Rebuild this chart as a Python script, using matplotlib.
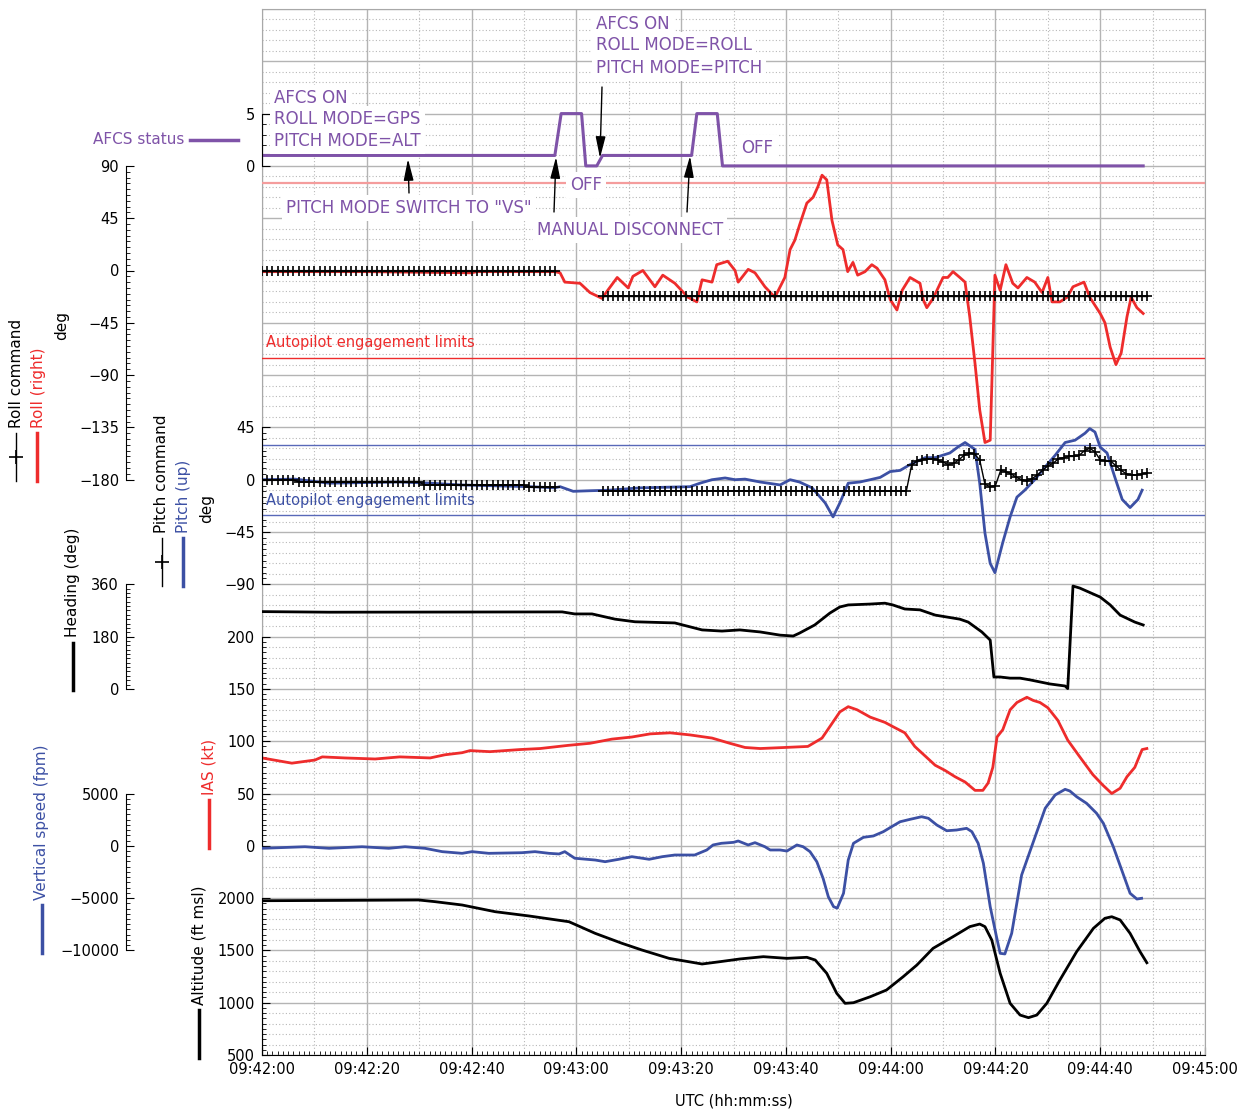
import numpy as np
import matplotlib
matplotlib.use("Agg")
import matplotlib.pyplot as plt
from matplotlib.lines import Line2D
from matplotlib.ticker import FixedLocator, MultipleLocator, FuncFormatter

# ---- data (time in s after 09:42:00 UTC) ----
afcs_t = [0, 55.9, 57.1, 61.0, 61.8, 63.9, 65.0, 82.0, 83.0, 86.9, 87.9, 168.2]
afcs_v = [1, 1, 5, 5, 0, 0, 1, 1, 5, 5, 0, 0]

roll_t = [0, 20, 40, 41, 55.9, 56.9, 57.8, 60.7, 62.6, 64.9, 66.0, 67.8, 69.9, 70.8, 72.7,
          75.0, 76.5, 78.8, 81.3, 83.0, 84.0, 85.9, 86.8, 88.9, 90.3, 90.9, 92.8, 94.1,
          96.0, 97.9, 99.8, 100.8, 101.7, 102.6, 104.0, 105.2, 106.1, 106.9, 107.8, 108.8,
          109.9, 110.9, 111.8, 112.8, 113.7, 115.1, 116.4, 117.4, 118.9, 119.9, 121.2,
          122.2, 123.7, 125.6, 126.2, 126.9, 128.1, 130.0, 130.9, 131.9, 133.2, 134.2,
          135.1, 136.1, 137.0, 138.0, 139.0, 139.5, 139.9, 140.9, 142.0, 143.3, 144.3,
          146.0, 147.5, 148.9, 150.0, 150.8, 152.3, 153.7, 154.8, 156.9, 158.0, 160.0,
          160.9, 161.9, 163.0, 164.0, 165.1, 165.9, 167.0, 168.2]
roll_v = [-1, -1, -2, -1, -1, -2, -10, -11, -19, -24, -17, -6, -15, -5, 0,
          -14, -4, -11, -23, -27, -8, -10, 5, 8, 0, -10, 1, -2,
          -14, -23, -6, 18, 26, 39, 58, 63, 72, 82, 78, 43,
          22, 18, -1, 7, -4, -1, 5, 2, -8, -25, -34,
          -17, -6, -11, -25, -32, -24, -6, -6, -1, -6, -10,
          -40, -80, -120, -148, -146, -68, -4, -17, 5, -11, -15,
          -6, -10, -19, -6, -27, -27, -23, -14, -10, -23, -37,
          -45, -66, -81, -71, -40, -23, -32, -37]

roll_cmd_a_t = np.arange(0, 57)
roll_cmd_a_v = [0] * 57
roll_cmd_b_t = np.arange(65, 170)
roll_cmd_b_v = [-22] * 105

pitch_t = [0, 6.3, 12.8, 26.3, 32.1, 37.8, 51.2, 55.9, 56.9, 59.4, 62.6, 66.4, 72.2, 81.7,
           83.6, 85.9, 88.4, 90.3, 92.2, 95.1, 98.9, 100.8, 102.6, 105.0, 107.5, 109.0,
           110.3, 111.9, 114.1, 116.1, 118.0, 119.9, 121.8, 123.7, 126.6, 128.5, 131.3,
           132.8, 134.2, 136.1, 137.0, 138.0, 139.0, 139.9, 141.4, 142.8, 144.1, 145.6,
           147.5, 149.5, 151.4, 153.3, 155.2, 157.1, 158.0, 159.0, 160.0, 161.3, 162.8,
           164.2, 165.7, 167.2, 168.0]
pitch_v = [0, 0.5, -3, -2, -3, -4.5, -6, -7, -6, -10, -9.5, -9, -7, -6,
           -3, 0, 1.5, 0, 0.5, -2, -4.5, 0, -2, -7, -20, -32,
           -20, -3, -2, 0, 2, 7, 8, 13, 19, 19, 23,
           28, 32, 26, -3, -46, -72, -80, -54, -32, -15, -9,
           0, 11, 21, 32, 34, 40, 44, 41, 28, 23, 2,
           -17, -24, -17, -9]

pitch_cmd_a_t = np.arange(0, 57)
pitch_cmd_a_v = [0] * 7 + [-2] * 24 + [-4.5] * 20 + [-6.5] * 6
pitch_cmd_b_t = np.arange(65, 170)
pitch_cmd_b_v = [-9.5] * 59 + [12.6, 16, 17, 18, 18, 17, 15, 13, 14, 17, 21, 23, 22, 17,
                               -4, -6, -5, 8, 7, 5, 2, 0, -1, 1, 4, 8, 12, 14, 18, 19, 20,
                               20, 21, 25, 27, 24, 17, 16, 16, 12, 8, 5, 4, 4, 5, 6]

hdg_t = [0, 12.8, 57.3, 59.7, 63.0, 67.4, 71.2, 78.8, 84.0, 87.8, 91.2, 95.1, 98.9, 101.4,
         102.6, 105.5, 108.4, 110.3, 111.9, 116.1, 118.9, 120.4, 122.7, 125.6, 128.5,
         133.2, 134.8, 136.1, 137.4, 138.6, 139.0, 139.7, 140.9, 142.8, 144.7, 146.6,
         150.4, 153.3, 153.8, 154.8, 156.1, 160.0, 161.9, 163.8, 166.6, 168.2]
hdg_v = [266, 264, 265, 258, 258, 240, 231, 227, 203, 199, 203, 196, 185, 182,
         192, 220, 261, 282, 289, 292, 295, 289, 275, 272, 254,
         240, 230, 213, 196, 175, 168, 41, 41, 37, 37, 31,
         17, 10, 1, 354, 347, 316, 289, 254, 230, 220]

ias_t = [0, 5.7, 10.1, 11.5, 15.8, 21.6, 26.3, 32.1, 34.9, 38.2, 39.7, 43.5, 49.2, 53.1,
         58.4, 62.6, 66.8, 70.6, 74.1, 77.9, 81.7, 85.9, 89.3, 92.2, 95.1, 99.8, 104.2,
         106.9, 108.4, 110.3, 111.9, 113.6, 116.1, 118.9, 120.4, 122.7, 124.6, 128.5,
         130.4, 132.3, 134.2, 136.1, 137.6, 138.6, 139.5, 140.3, 141.4, 142.8, 144.1,
         146.0, 147.2, 148.5, 150.0, 151.9, 153.8, 156.1, 158.6, 160.5, 162.2, 163.8,
         165.1, 166.6, 168.0, 168.9]
ias_v = [84, 79, 82, 85, 84, 83, 85, 84, 87, 89, 91, 90, 92, 93,
         96, 98, 102, 104, 107, 108, 106, 103, 98, 94, 93, 94, 95,
         103, 114, 128, 133, 130, 123, 118, 114, 108, 95, 77,
         72, 66, 61, 53, 53, 60, 75, 104, 111, 130, 137,
         142, 139, 137, 132, 120, 101, 85, 68, 58, 50, 55,
         66, 75, 92, 93]

vs_t = [0, 8.2, 12.8, 19.1, 24.2, 27.3, 31.1, 34.4, 38.2, 40.1, 43.3, 49.6, 52.1, 54.8,
        56.7, 57.8, 59.7, 63.6, 65.5, 68.1, 70.6, 73.9, 76.4, 78.8, 82.6, 84.9, 86.1,
        87.7, 90.0, 90.9, 92.8, 94.1, 96.0, 97.0, 98.9, 100.2, 102.1, 103.3, 104.6,
        105.9, 107.1, 108.1, 109.1, 109.8, 111.0, 111.9, 112.9, 114.8, 116.7, 118.6,
        120.2, 121.8, 123.7, 125.9, 127.2, 128.8, 130.7, 132.6, 134.5, 135.5, 136.7,
        137.7, 139.0, 140.2, 140.9, 141.8, 143.1, 145.0, 146.9, 149.5, 151.4, 153.3,
        154.2, 155.5, 157.4, 159.3, 160.6, 162.5, 164.1, 165.7, 167.0, 167.9]
vs_v = [-240, -90, -240, -90, -240, -90, -240, -560, -720, -560, -720, -660, -560, -720,
        -780, -560, -1190, -1360, -1520, -1290, -1040, -1290, -1040, -880, -880, -400, 80,
        240, 330, 460, 80, 300, -90, -400, -400, -500, 80, -90, -560,
        -1520, -3110, -4870, -5820, -5960, -4540, -1360, 240, 810, 940, 1350,
        1830, 2300, 2530, 2780, 2630, 1990, 1440, 1510, 1670, 1350, 240,
        -1670, -5820, -8690, -10280, -10340, -8370, -2790, -90, 3590, 4860, 5400,
        5240, 4690, 4060, 3110, 2150, -90, -2310, -4540, -5090, -5020]

alt_t = [0, 15, 29.9, 33.0, 38.2, 44.5, 51.0, 58.6, 63.6, 68.7, 72.5, 77.7, 84.0, 87.4,
         91.2, 95.7, 100.2, 104.0, 105.6, 107.8, 109.7, 111.3, 112.9, 116.1, 119.2,
         122.4, 125.0, 128.1, 131.9, 135.1, 137.0, 138.0, 139.3, 140.9, 142.8, 144.7,
         146.3, 147.9, 149.8, 152.3, 155.5, 158.7, 160.9, 162.2, 163.8, 165.7, 167.6, 168.9]
alt_v = [1975, 1978, 1982, 1966, 1934, 1870, 1829, 1774, 1663, 1568, 1504, 1424, 1370, 1392,
         1418, 1440, 1424, 1434, 1408, 1281, 1090, 994, 1000, 1057, 1121,
         1249, 1360, 1520, 1631, 1727, 1752, 1727, 1599, 1281, 994, 882,
         857, 882, 994, 1217, 1488, 1711, 1807, 1822, 1791, 1663, 1488, 1382]

roll_limit = 75
pitch_limit = 30

PURPLE = "#7f53a8"
RED = "#ee2c2c"
BLUE = "#3c50a4"
GRID = "#b4b4b4"

W, H = 1247, 1109
fig = plt.figure(figsize=(W / 100, H / 100), dpi=100)


def fx(x):
    return x / W


def fy(y):
    return 1 - y / H


pos = [fx(262), fy(1055), fx(1205) - fx(262), fy(9) - fy(1055)]

# main frame with grid
ax = fig.add_axes(pos)
ax.set_xlim(0, 180)
ax.set_ylim(0, 20)
ax.xaxis.set_major_locator(MultipleLocator(20))
ax.xaxis.set_minor_locator(MultipleLocator(1))
ax.xaxis.set_major_formatter(FuncFormatter(
    lambda s, p: f"09:{42 + int(s) // 60:02d}:{int(s) % 60:02d}"))
ax.yaxis.set_major_locator(MultipleLocator(1))
ax.yaxis.set_minor_locator(MultipleLocator(0.2))
ax.tick_params(axis="y", which="both", length=0, labelleft=False)
ax.tick_params(axis="x", which="major", direction="in", length=6, pad=5, labelsize=10.5)
ax.tick_params(axis="x", which="minor", direction="in", length=3)
ax.grid(True, which="major", color=GRID, lw=1.0)
ax.grid(True, which="minor", axis="y", color="#b8b8b8", lw=0.8, ls=(0, (1, 2)))
ax.vlines(np.arange(10, 180, 20), 0, 20, color="#b8b8b8", lw=0.8, ls=(0, (1, 2)))
for s in ["left", "top", "right"]:
    ax.spines[s].set_color("#a8a8a8")
ax.spines["bottom"].set_color("black")
ax.set_axisbelow(True)
ax.set_xlabel("UTC (hh:mm:ss)", fontsize=10.5, labelpad=12)

fmt = FuncFormatter(lambda v, p: f"{v:g}".replace("-", "\u2212"))


def scale_axes(ylim, bounds, majors, minor_step, spine_x):
    a = fig.add_axes(pos, facecolor="none")
    a.set_xlim(0, 180)
    a.set_ylim(*ylim)
    a.xaxis.set_visible(False)
    for s in ["top", "right", "bottom"]:
        a.spines[s].set_visible(False)
    a.spines["left"].set_position(("axes", (spine_x - 262) / 943))
    a.spines["left"].set_bounds(*bounds)
    a.spines["left"].set_color("black")
    a.yaxis.set_major_locator(FixedLocator(majors))
    a.yaxis.set_minor_locator(FixedLocator(np.arange(bounds[0], bounds[1] + minor_step / 2, minor_step)))
    a.yaxis.set_major_formatter(fmt)
    a.tick_params(axis="y", which="major", direction="in", length=6, pad=5, labelsize=10.5)
    a.tick_params(axis="y", which="minor", direction="in", length=3)
    return a


# roll
ax_roll = scale_axes((-675, 225), (-180, 90), [-180, -135, -90, -45, 0, 45, 90], 5, 126)
ax_roll.axhline(roll_limit, color="#f49c9c", lw=1.6)
ax_roll.axhline(-roll_limit, color=RED, lw=1.0)
ax_roll.plot(roll_t, roll_v, color=RED, lw=2.0)
for tt, vv in [(roll_cmd_a_t, roll_cmd_a_v), (roll_cmd_b_t, roll_cmd_b_v)]:
    ax_roll.plot(tt, vv, color="black", lw=1.0, marker="+", ms=7.5, mew=1.2)

# pitch
ax_pitch = scale_axes((-495, 405), (-90, 45), [-90, -45, 0, 45], 5, 262)
ax_pitch.axhline(pitch_limit, color="#5868b8", lw=1.0)
ax_pitch.axhline(-pitch_limit, color="#5868b8", lw=1.0)
ax_pitch.plot(pitch_t, pitch_v, color=BLUE, lw=2.0)
for tt, vv in [(pitch_cmd_a_t, pitch_cmd_a_v), (pitch_cmd_b_t, pitch_cmd_b_v)]:
    ax_pitch.plot(tt, vv, color="black", lw=1.0, marker="+", ms=7.5, mew=1.2)

# heading
ax_hdg = scale_axes((-1260, 2340), (0, 360), [0, 180, 360], 15, 126)
ax_hdg.plot(hdg_t, hdg_v, color="black", lw=2.0)

# IAS
ax_ias = scale_axes((-200, 800), (0, 200), [0, 50, 100, 150, 200], 5, 262)
ax_ias.plot(ias_t, ias_v, color=RED, lw=2.0)

# vertical speed
ax_vs = scale_axes((-20000, 80000), (-10000, 5000), [-10000, -5000, 0, 5000], 500, 126)
ax_vs.plot(vs_t, vs_v, color=BLUE, lw=2.0)

# altitude
ax_alt = scale_axes((500, 10500), (500, 2000), [500, 1000, 1500, 2000], 50, 262)
ax_alt.plot(alt_t, alt_v, color="black", lw=2.0)

# AFCS status (last, so the annotation boxes sit on top)
ax_afcs = scale_axes((-85, 15), (0, 5), [0, 5], 1, 262)
ax_afcs.plot(afcs_t, afcs_v, color=PURPLE, lw=2.2)

ax_roll.text(fx(266), fy(343), "Autopilot engagement limits", transform=fig.transFigure,
             color=RED, fontsize=10.5, va="center")
ax_pitch.text(fx(266), fy(500), "Autopilot engagement limits", transform=fig.transFigure,
              color=BLUE, fontsize=10.5, va="center")

box = dict(fc="white", ec="none", pad=3)
notes = [
    ("AFCS ON", 274, 98), ("ROLL MODE=GPS", 274, 119), ("PITCH MODE=ALT", 274, 141),
    ('PITCH MODE SWITCH TO "VS"', 286, 208), ("OFF", 570, 185),
    ("AFCS ON", 596, 24), ("ROLL MODE=ROLL", 596, 45), ("PITCH MODE=PITCH", 596, 68),
    ("MANUAL DISCONNECT", 537, 230), ("OFF", 741, 148),
]
for txt, x, y in notes:
    ax_afcs.text(fx(x), fy(y), txt, transform=fig.transFigure, color=PURPLE, fontsize=12,
                 ha="left", va="center", bbox=box, zorder=5)

arrows = [((409, 193), (408, 159)), ((554, 212), (556, 157)),
          ((602, 87), (600, 158)), ((687, 212), (690, 156))]
for (x0, y0), (x1, y1) in arrows:
    ax_afcs.annotate("", xy=(fx(x1), fy(y1)), xycoords="figure fraction",
                     xytext=(fx(x0), fy(y0)), textcoords="figure fraction",
                     arrowprops=dict(arrowstyle="-|>,head_length=1.3,head_width=0.3",
                                     mutation_scale=10, color="black", lw=1.0,
                                     shrinkA=0, shrinkB=0), zorder=6)

# left-hand labels and legend glyphs
vlabels = [("Roll command", 17, 428, "black"), ("Roll (right)", 38, 428, RED),
           ("Pitch command", 162, 533, "black"), ("Pitch (up)", 183, 533, BLUE),
           ("Heading (deg)", 73, 637, "black"), ("IAS (kt)", 209, 795, RED),
           ("Vertical speed (fpm)", 42, 900, BLUE), ("Altitude (ft msl)", 199, 1005, "black")]
for txt, x, y, c in vlabels:
    fig.text(fx(x), fy(y), txt, rotation=90, ha="center", va="bottom", color=c, fontsize=11)
fig.text(fx(62), fy(325), "deg", rotation=90, ha="center", va="center", fontsize=11)
fig.text(fx(207), fy(508), "deg", rotation=90, ha="center", va="center", fontsize=11)
fig.text(fx(184), fy(140), "AFCS status", ha="right", va="center", color=PURPLE, fontsize=11)

glyphs = [(16, 433, 481, "black", 1.0), (37, 433, 481, RED, 2.5),
          (162, 538, 586, "black", 1.0), (183, 538, 586, BLUE, 2.5),
          (73, 643, 690, "black", 2.5), (209, 800, 848, RED, 2.5),
          (42, 905, 953, BLUE, 2.5), (199, 1010, 1058, "black", 2.5)]
for x, y0, y1, c, lw in glyphs:
    fig.add_artist(Line2D([fx(x), fx(x)], [fy(y0), fy(y1)], color=c, lw=lw))
for x, y in [(16, 457), (162, 562)]:
    fig.add_artist(Line2D([fx(x)], [fy(y)], color="black", marker="+", ms=10, mew=1.2))
fig.add_artist(Line2D([fx(190), fx(238)], [fy(140), fy(140)], color=PURPLE, lw=2.5))

fig.savefig("out.png", dpi=100)
